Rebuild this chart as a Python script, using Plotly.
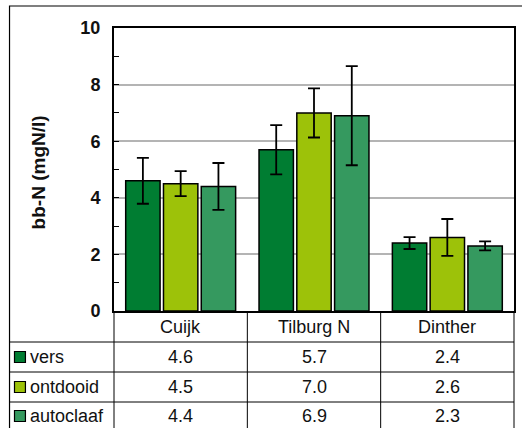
import plotly.graph_objects as go

categories = ["Cuijk", "Tilburg N", "Dinther"]
series_names = ["vers", "ontdooid", "autoclaaf"]
vers = [4.6, 5.7, 2.4]
ontdooid = [4.5, 7.0, 2.6]
autoclaaf = [4.4, 6.9, 2.3]
vers_err = [0.81, 0.87, 0.21]
ontdooid_err = [0.44, 0.87, 0.65]
autoclaaf_err = [0.83, 1.75, 0.16]
colors = ["#007D32", "#9DC209", "#35995F"]
y_ticks = [0, 2, 4, 6, 8, 10]

values = [vers, ontdooid, autoclaaf]
errors = [vers_err, ontdooid_err, autoclaaf_err]

W, H = 522, 428
L, R, T, B = 114, 6, 28, 117
PW, PH = W - L - R, H - T - B
FONT = "Arial, Liberation Sans, sans-serif"


def px(x):
    return (x - L) / PW


def py(y):
    return (H - B - y) / PH


fig = go.Figure()
for name, vals, errs, col in zip(series_names, values, errors, colors):
    fig.add_trace(go.Bar(
        x=categories, y=vals, name=name,
        marker=dict(color=col, line=dict(color="black", width=1.5)),
        error_y=dict(type="data", array=errs, color="black", thickness=1.8, width=6),
        showlegend=False,
    ))

shapes = []
line = dict(color="black", width=1)
# outer frame
shapes.append(dict(type="rect", xref="paper", yref="paper", x0=px(9), x1=px(530),
                   y0=py(6), y1=py(440), line=dict(color="black", width=1.2)))
# table horizontal lines
for yy in [342, 372, 402]:
    shapes.append(dict(type="line", xref="paper", yref="paper", x0=px(9), x1=px(516),
                       y0=py(yy), y1=py(yy), line=line))
# table vertical lines
for xx in [114, 248, 382, 516]:
    shapes.append(dict(type="line", xref="paper", yref="paper", x0=px(xx), x1=px(xx),
                       y0=py(311), y1=py(440), line=line))

annotations = []
col_centers = [181, 315, 449]
for c, cx in zip(categories, col_centers):
    annotations.append(dict(text=c, xref="paper", yref="paper", x=px(cx), y=py(327),
                            showarrow=False, xanchor="center", yanchor="middle",
                            font=dict(family=FONT, size=18, color="#111")))
row_centers = [357, 387, 416]
for name, vals, col, ry in zip(series_names, values, colors, row_centers):
    shapes.append(dict(type="rect", xref="paper", yref="paper", x0=px(14), x1=px(25),
                       y0=py(ry - 5.5), y1=py(ry + 5.5), fillcolor=col,
                       line=dict(color="black", width=1.2)))
    annotations.append(dict(text=name, xref="paper", yref="paper", x=px(28), y=py(ry),
                            showarrow=False, xanchor="left", yanchor="middle",
                            font=dict(family=FONT, size=18, color="#111")))
    for v, cx in zip(vals, col_centers):
        annotations.append(dict(text=f"{v:.1f}", xref="paper", yref="paper", x=px(cx), y=py(ry),
                                showarrow=False, xanchor="center", yanchor="middle",
                                font=dict(family=FONT, size=18, color="#111")))
annotations.append(dict(text="bb-N (mgN/l)", xref="paper", yref="paper", x=px(38), y=py(172),
                        showarrow=False, textangle=-90, xanchor="center", yanchor="middle",
                        font=dict(family=FONT, size=19, color="#111", weight="bold")))

fig.update_layout(
    width=W, height=H,
    margin=dict(l=L, r=R, t=T, b=B, pad=0),
    paper_bgcolor="white", plot_bgcolor="white",
    barmode="group", bargap=0.15, bargroupgap=0.09,
    shapes=shapes, annotations=annotations,
    xaxis=dict(showticklabels=False, ticks="", showline=True, linecolor="black", linewidth=2,
               mirror=True, range=[-0.5, 2.5], fixedrange=True),
    yaxis=dict(range=[0, 10], tickvals=y_ticks, showgrid=True, gridcolor="#b4b4b4", gridwidth=1.5,
               ticks="inside", ticklen=5, tickcolor="black", showline=True, linecolor="black",
               linewidth=2, mirror=True, zeroline=False, ticklabelstandoff=8,
               tickfont=dict(family=FONT, size=18, color="#111", weight="bold"),
               minor=dict(dtick=1, tick0=0, ticks="inside", ticklen=5, tickcolor="black", showgrid=False)),
)

fig.write_html("out.html")
